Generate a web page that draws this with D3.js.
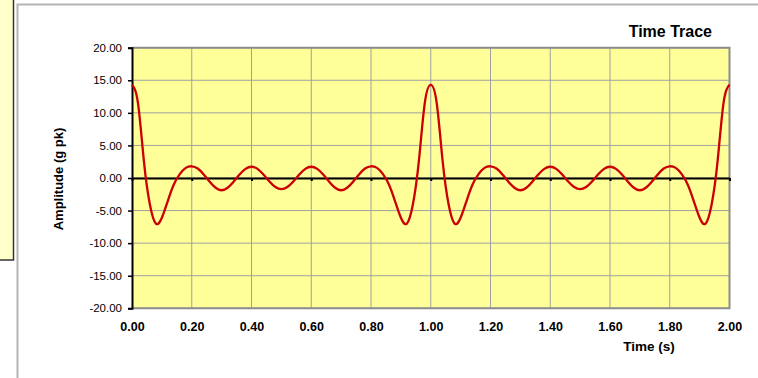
<!DOCTYPE html>
<html><head><meta charset="utf-8">
<script src="https://cdn.jsdelivr.net/npm/d3@7"></script>
<style>
html,body{margin:0;padding:0;background:#fff;}
svg{display:block;font-family:"Liberation Sans",Arial,sans-serif;}
</style></head>
<body>
<svg id="c" width="758" height="378"></svg>
<script>
const timeS = [0.00,0.02,0.04,0.06,0.08,0.10,0.12,0.14,0.16,0.18,0.20,0.22,0.24,0.26,0.28,0.30,0.32,0.34,0.36,0.38,0.40,0.42,0.44,0.46,0.48,0.50,0.52,0.54,0.56,0.58,0.60,0.62,0.64,0.66,0.68,0.70,0.72,0.74,0.76,0.78,0.80,0.82,0.84,0.86,0.88,0.90,0.92,0.94,0.96,0.98,1.00,
1.02,1.04,1.06,1.08,1.10,1.12,1.14,1.16,1.18,1.20,1.22,1.24,1.26,1.28,1.30,1.32,1.34,1.36,1.38,1.40,1.42,1.44,1.46,1.48,1.50,1.52,1.54,1.56,1.58,1.60,1.62,1.64,1.66,1.68,1.70,1.72,1.74,1.76,1.78,1.80,1.82,1.84,1.86,1.88,1.90,1.92,1.94,1.96,1.98,2.00];
const amplitude = [14.3,11.5,2.5,-4.1,-7.0,-6.1,-3.5,-1.0,0.6,1.55,1.8,1.45,0.55,-0.57,-1.5,-1.88,-1.5,-0.56,0.54,1.4,1.73,1.4,0.53,-0.53,-1.38,-1.72,-1.38,-0.53,0.53,1.4,1.73,1.4,0.54,-0.56,-1.5,-1.88,-1.5,-0.57,0.55,1.45,1.8,1.55,0.6,-1.0,-3.5,-6.1,-7.0,-4.1,2.5,11.5,14.3,
11.5,2.5,-4.1,-7.0,-6.1,-3.5,-1.0,0.6,1.55,1.8,1.45,0.55,-0.57,-1.5,-1.88,-1.5,-0.56,0.54,1.4,1.73,1.4,0.53,-0.53,-1.38,-1.72,-1.38,-0.53,0.53,1.4,1.73,1.4,0.54,-0.56,-1.5,-1.88,-1.5,-0.57,0.55,1.45,1.8,1.55,0.6,-1.0,-3.5,-6.1,-7.0,-4.1,2.5,11.5,14.3];
const xTicks = [0,0.2,0.4,0.6,0.8,1.0,1.2,1.4,1.6,1.8,2.0];
const yTicks = [-20,-15,-10,-5,0,5,10,15,20];
const title = "Time Trace", xTitle = "Time (s)", yTitle = "Amplitude (g pk)";

const svg = d3.select("#c");
const L = 132, R = 729.5, T = 47.7, B = 308.3;
const x = d3.scaleLinear().domain([0,2]).range([L,R]);
const y = d3.scaleLinear().domain([-20,20]).range([B,T]);
const fmt = d => d.toFixed(2);

// left decorative box
svg.append("rect").attr("x",-3).attr("y",-3).attr("width",16.5).attr("height",263)
  .attr("fill","#FFFFCC").attr("stroke","#333").attr("stroke-width",1.5);
// chart area border
svg.append("path").attr("d","M17.5,378 V4.5 H758").attr("fill","none")
  .attr("stroke","#b4b4b4").attr("stroke-width",2);

// plot area
svg.append("rect").attr("x",L).attr("y",T).attr("width",R-L).attr("height",B-T)
  .attr("fill","#FFFF99");
// grid
svg.append("g").selectAll("line").data(xTicks.slice(1)).join("line")
  .attr("x1",d=>x(d)).attr("x2",d=>x(d)).attr("y1",T).attr("y2",B)
  .attr("stroke","#a0a0a0").attr("stroke-width",1);
svg.append("g").selectAll("line").data(yTicks).join("line")
  .attr("x1",L).attr("x2",R).attr("y1",d=>y(d)).attr("y2",d=>y(d))
  .attr("stroke","#a0a0a0").attr("stroke-width",1);
// border (gray)
svg.append("path").attr("d",`M${L},${T} H${R} V${B} H${L}`).attr("fill","none")
  .attr("stroke","#8c8c8c").attr("stroke-width",2);

// y axis
const yAxis = d3.axisLeft(y).tickValues(yTicks).tickFormat(fmt).tickSize(4).tickPadding(6);
const gy = svg.append("g").attr("transform",`translate(${L},0)`).call(yAxis);
gy.select(".domain").attr("stroke","#000").attr("stroke-width",2);
gy.selectAll(".tick line").attr("stroke","#000").attr("stroke-width",1.5);
gy.selectAll("text").attr("font-size","11.5px").attr("fill","#000")
  .attr("font-family","'Liberation Sans',Arial,sans-serif");

// x axis on zero line (ticks down, no labels)
const xAxis0 = d3.axisBottom(x).tickValues(xTicks).tickSize(3).tickFormat("").tickSizeOuter(0);
const gx0 = svg.append("g").attr("transform",`translate(0,${y(0)})`).call(xAxis0);
gx0.select(".domain").attr("stroke","#000").attr("stroke-width",2);
gx0.selectAll(".tick line").attr("stroke","#000").attr("stroke-width",2);

// x labels at bottom
const xAxisB = d3.axisBottom(x).tickValues(xTicks).tickSize(0).tickPadding(14).tickFormat(fmt);
const gxb = svg.append("g").attr("transform",`translate(0,${B})`).call(xAxisB);
gxb.select(".domain").remove();
gxb.selectAll("text").attr("font-size","12.5px").attr("font-weight","bold").attr("fill","#000")
  .attr("font-family","'Liberation Sans',Arial,sans-serif");

// series
const line = d3.line().x((d,i)=>x(timeS[i])).y(d=>y(d)).curve(d3.curveNatural);
svg.append("path").datum(amplitude).attr("d",line).attr("fill","none")
  .attr("stroke","#CC0000").attr("stroke-width",2.3).attr("stroke-linejoin","round");

// titles
svg.append("text").attr("x",712).attr("y",36.7).attr("text-anchor","end")
  .attr("font-size","16px").attr("font-weight","bold").text(title);
svg.append("text").attr("x",649).attr("y",351).attr("text-anchor","middle")
  .attr("font-size","13.5px").attr("font-weight","bold").text(xTitle);
svg.append("text").attr("transform","translate(63,179) rotate(-90)").attr("text-anchor","middle")
  .attr("font-size","13px").attr("font-weight","bold").text(yTitle);
</script>
</body></html>
